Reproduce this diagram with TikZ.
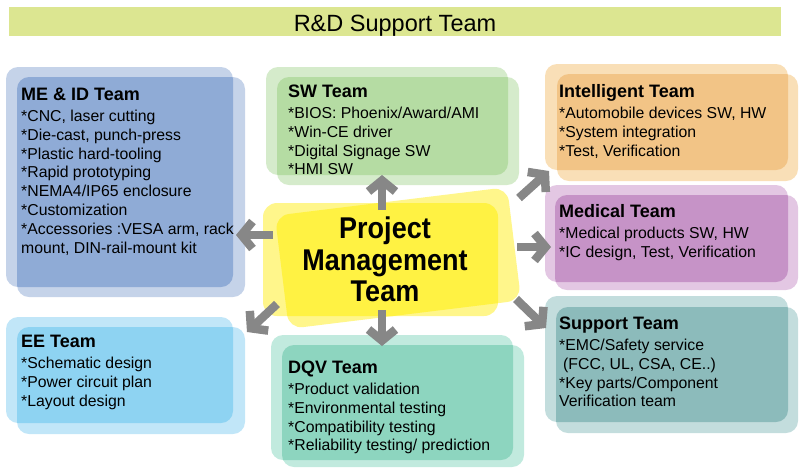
\documentclass[tikz,border=0pt]{standalone}
\usepackage{fontspec}
\setmainfont{Liberation Sans}
\usepackage{graphicx}
\usetikzlibrary{arrows.meta}
\definecolor{meL}{HTML}{C5D3E9}\definecolor{meD}{HTML}{8FABD6}
\definecolor{swL}{HTML}{D5EBCB}\definecolor{swD}{HTML}{B5DCA3}
\definecolor{inL}{HTML}{F9DFB7}\definecolor{inD}{HTML}{F2C486}
\definecolor{mdL}{HTML}{E3C7E3}\definecolor{mdD}{HTML}{C693C7}
\definecolor{spL}{HTML}{C3DDDD}\definecolor{spD}{HTML}{8CBBBB}
\definecolor{eeL}{HTML}{C1E6F8}\definecolor{eeD}{HTML}{8ED3F2}
\definecolor{dqL}{HTML}{C1EADE}\definecolor{dqD}{HTML}{8DD5BF}
\definecolor{yeL}{HTML}{FFF68B}\definecolor{yeD}{HTML}{FFF243}
\definecolor{titleG}{HTML}{DCE691}
\definecolor{arrG}{HTML}{878787}
\newcommand\headfnt{\fontsize{18}{20}\selectfont\bfseries}
\newcommand\bodyfnt{\fontsize{15.8}{18.8}\selectfont\mdseries}
\newcommand\teamtext[2]{\parbox[t]{260pt}{\raggedright\headfnt #1\par\vspace{2.6pt}\bodyfnt #2}}
% light A, light B, dark overlap
\newcommand\teambox[6]{%
  \fill[#1, rounded corners=12pt] #3 rectangle #4;
  \fill[#1, rounded corners=12pt] #5 rectangle #6;
  \begin{scope}
    \clip[rounded corners=12pt] #3 rectangle #4;
    \fill[#2, rounded corners=12pt] #5 rectangle #6;
  \end{scope}}
\tikzset{
  teamlbl/.style={anchor=base west, inner sep=0pt, text=black},
  pmlbl/.style={anchor=base, inner sep=0pt, font=\fontsize{30}{31.5}\selectfont\bfseries},
  garr/.style={draw=arrG, line width=8.5pt, -{Straight Barb[length=11pt, width=27pt]}}
}
\begin{document}
\begin{tikzpicture}[x=1pt, y=-1pt]
\useasboundingbox (0,0) rectangle (801,467);
% title
\fill[titleG] (9,7) rectangle (781,36);
\node[anchor=base, inner sep=0pt, font=\fontsize{23.5}{26}\selectfont] (title) at (395,31) {R\&D Support Team};

% team boxes
\teambox{meL}{meD}{(6,67)}{(233,287)}{(17,77)}{(245,297)}
\teambox{swL}{swD}{(266,67)}{(508,175)}{(277,77)}{(519,185)}
\teambox{inL}{inD}{(545,64)}{(788,170)}{(557,74)}{(798,181)}
\teambox{mdL}{mdD}{(545,185)}{(788,282)}{(555,195)}{(798,290)}
\teambox{spL}{spD}{(545,296)}{(788,422)}{(556,307)}{(798,433)}
\teambox{eeL}{eeD}{(6,317)}{(233,423)}{(17,327)}{(245,434)}
\teambox{dqL}{dqD}{(271,335)}{(513,460)}{(282,345)}{(524,467)}

\node[teamlbl] (me) at (21,100) {\teamtext{ME \& ID Team}{*CNC, laser cutting\par *Die-cast, punch-press\par *Plastic hard-tooling\par *Rapid prototyping\par *NEMA4/IP65 enclosure\par *Customization\par *Accessories :VESA arm, rack\par mount, DIN-rail-mount kit}};
\node[teamlbl] (sw) at (288,97) {\teamtext{SW Team}{*BIOS: Phoenix/Award/AMI\par *Win-CE driver\par *Digital Signage SW\par *HMI SW}};
\node[teamlbl] (intel) at (559,97) {\teamtext{Intelligent Team}{*Automobile devices SW, HW\par *System integration\par *Test, Verification}};
\node[teamlbl] (med) at (559,217) {\teamtext{Medical Team}{*Medical products SW, HW\par *IC design, Test, Verification}};
\node[teamlbl] (sup) at (559,329) {\teamtext{Support Team}{*EMC/Safety service\par \hspace*{4pt}(FCC, UL, CSA, CE..)\par *Key parts/Component\par Verification team}};
\node[teamlbl] (ee) at (21,347) {\teamtext{EE Team}{*Schematic design\par *Power circuit plan\par *Layout design}};
\node[teamlbl] (dqv) at (288,373) {\teamtext{DQV Team}{*Product validation\par *Environmental testing\par *Compatibility testing\par *Reliability testing/ prediction}};

% center
\fill[yeL, rounded corners=14pt] (263,203) rectangle (498,316);
\fill[yeL, rounded corners=14pt, rotate around={7:(398,258)}] (281,201) rectangle (515,315);
\begin{scope}
  \clip[rounded corners=14pt] (263,203) rectangle (498,316);
  \fill[yeD, rounded corners=14pt, rotate around={7:(398,258)}] (281,201) rectangle (515,315);
\end{scope}
\node[pmlbl] (pm1) at (385,238) {\scalebox{0.9}[1]{Project}};
\node[pmlbl] (pm2) at (385,270) {\scalebox{0.9}[1]{Management}};
\node[pmlbl] (pm3) at (385,301) {\scalebox{0.9}[1]{Team}};

% arrows
\coordinate (uS) at (382,210); \coordinate (uE) at (382,175);
\coordinate (dS) at (382,310); \coordinate (dE) at (382,346);
\coordinate (lS) at (273,235); \coordinate (lE) at (236,235);
\coordinate (rS) at (517,247); \coordinate (rE) at (551,247);
\coordinate (urS) at (519,198); \coordinate (urE) at (549,171);
\coordinate (drS) at (516,299); \coordinate (drE) at (546,328);
\coordinate (dlS) at (277,304); \coordinate (dlE) at (247,332);
\draw[garr] (uS) -- (uE);
\draw[garr] (dS) -- (dE);
\draw[garr] (lS) -- (lE);
\draw[garr] (rS) -- (rE);
\draw[garr] (urS) -- (urE);
\draw[garr] (drS) -- (drE);
\draw[garr] (dlS) -- (dlE);
\end{tikzpicture}
\end{document}
